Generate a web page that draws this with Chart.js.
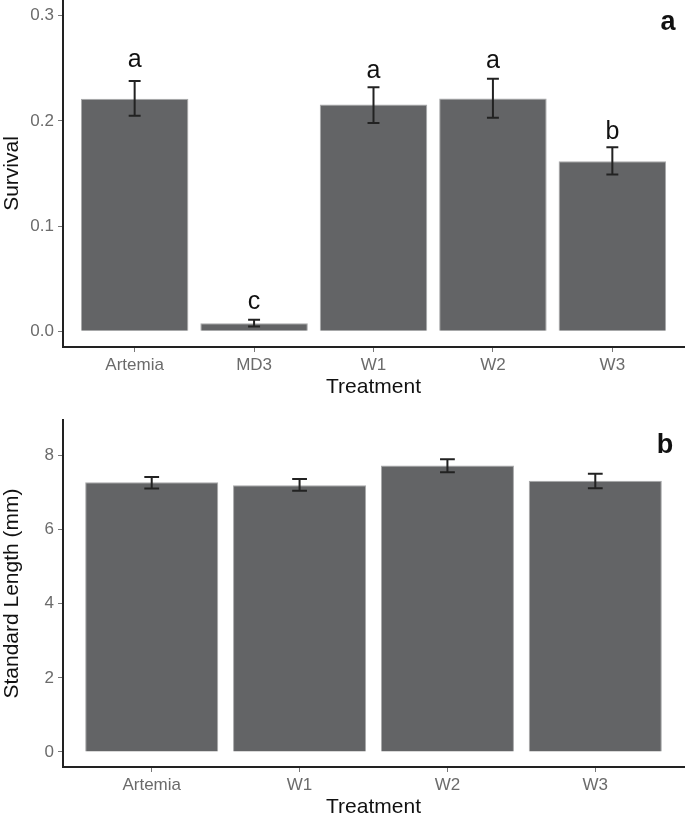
<!DOCTYPE html>
<html>
<head>
<meta charset="utf-8">
<script src="https://cdn.jsdelivr.net/npm/chart.js@4.4.1/dist/chart.umd.min.js"></script>
<style>
  html, body { margin: 0; padding: 0; background: #fff; }
  #wrap { position: relative; width: 685px; height: 823px; }
  canvas { position: absolute; left: 0; }
  #survivalChart { top: 0; }
  #lengthChart { top: 410px; }
</style>
</head>
<body>
<div id="wrap">
  <canvas id="survivalChart" width="685" height="400"></canvas>
  <canvas id="lengthChart" width="685" height="413"></canvas>
</div>
<script>
// panel a - survival
const survivalLabels = ["Artemia", "MD3", "W1", "W2", "W3"];
const survivalMean = [0.221, 0.0076, 0.2156, 0.2213, 0.1616];
const survivalLow = [0.205, 0.0045, 0.198, 0.203, 0.149];
const survivalHigh = [0.238, 0.011, 0.232, 0.240, 0.175];
const survivalLetters = ["a", "c", "a", "a", "b"];
const survivalLetterY = [0.251, 0.0207, 0.2404, 0.2505, 0.1832];
const survivalTicks = [0, 0.1, 0.2, 0.3];

// panel b - standard length
const lengthLabels = ["Artemia", "W1", "W2", "W3"];
const lengthMean = [7.28, 7.20, 7.73, 7.32];
const lengthLow = [7.11, 7.05, 7.55, 7.12];
const lengthHigh = [7.42, 7.37, 7.90, 7.51];
const lengthTicks = [0, 2, 4, 6, 8];

const FONT = "'Liberation Sans', Arial, sans-serif";

const errorBars = {
  id: "errorBars",
  afterDatasetsDraw(chart, args, opts) {
    const { ctx } = chart;
    const x = chart.scales.x;
    const y = chart.scales.y;
    ctx.save();
    ctx.strokeStyle = "#222";
    ctx.lineWidth = 2;
    opts.low.forEach((lo, i) => {
      const cx = x.getPixelForValue(i + 1);
      const half = x.getPixelForValue(i + 1.05) - cx;
      const yl = y.getPixelForValue(lo);
      const yh = y.getPixelForValue(opts.high[i]);
      ctx.beginPath();
      ctx.moveTo(cx, yl);
      ctx.lineTo(cx, yh);
      ctx.moveTo(cx - half, yl);
      ctx.lineTo(cx + half, yl);
      ctx.moveTo(cx - half, yh);
      ctx.lineTo(cx + half, yh);
      ctx.stroke();
    });

    ctx.fillStyle = "#111";
    ctx.textAlign = "center";
    ctx.textBaseline = "alphabetic";
    if (opts.letters) {
      ctx.font = "25px " + FONT;
      opts.letters.forEach((t, i) => {
        ctx.fillText(t, x.getPixelForValue(i + 1), y.getPixelForValue(opts.letterY[i]));
      });
    }

    ctx.font = "bold 27px " + FONT;
    ctx.fillText(opts.tag, opts.tagX, opts.tagY);
    ctx.restore();
  },
};

function makeChart(id, p) {
  const el = document.getElementById(id);
  if (!el) return null;
  return new Chart(el.getContext("2d"), {
    type: "bar",
    data: {
      datasets: [
        {
          data: p.mean.map((v, i) => ({ x: i + 1, y: v })),
          backgroundColor: "#636466",
          borderColor: "#a8a9aa",
          borderWidth: 1,
          barPercentage: 0.9,
          categoryPercentage: 1.0,
        },
      ],
    },
    options: {
      responsive: false,
      animation: false,
      layout: { padding: { left: 0, right: 1, top: p.top, bottom: 0 } },
      plugins: {
        legend: { display: false },
        tooltip: { enabled: false },
        errorBars: {
          low: p.low,
          high: p.high,
          letters: p.letters,
          letterY: p.letterY,
          tag: p.tag,
          tagX: p.tagX,
          tagY: p.tagY,
        },
      },
      scales: {
        x: {
          type: "linear",
          offset: false,
          min: 0.4,
          max: p.labels.length + 0.6,
          afterBuildTicks: (s) => {
            s.ticks = p.labels.map((_, i) => ({ value: i + 1 }));
          },
          afterFit: (s) => {
            s.height = p.xHeight;
            s.paddingLeft = 0;
            s.paddingRight = 0;
          },
          ticks: {
            autoSkip: false,
            maxRotation: 0,
            padding: 3,
            color: "#6b6b6b",
            font: { family: FONT, size: 17 },
            callback: (v) => p.labels[v - 1],
          },
          grid: {
            offset: false,
            drawOnChartArea: false,
            tickLength: 5,
            tickColor: "#777",
            tickWidth: 1,
          },
          border: { display: true, color: "#222", width: 2 },
          title: {
            display: true,
            text: "Treatment",
            color: "#111",
            font: { family: FONT, size: 21 },
            padding: { top: 0, bottom: p.xTitlePad },
          },
        },
        y: {
          type: "linear",
          min: p.yMin,
          max: p.yMax,
          afterBuildTicks: (s) => {
            s.ticks = p.yTicks.map((v) => ({ value: v }));
          },
          afterFit: (s) => {
            s.width = 63;
            s.paddingTop = 0;
            s.paddingBottom = 0;
          },
          ticks: {
            padding: 4,
            color: "#6b6b6b",
            font: { family: FONT, size: 17 },
            callback: (v) => v.toFixed(p.decimals),
          },
          grid: {
            drawOnChartArea: false,
            tickLength: 5,
            tickColor: "#777",
            tickWidth: 1,
          },
          border: { display: true, color: "#222", width: 2 },
          title: {
            display: true,
            text: p.yTitle,
            color: "#111",
            font: { family: FONT, size: 21 },
            padding: { top: 0, bottom: 0 },
          },
        },
      },
    },
    plugins: [errorBars],
  });
}

makeChart("survivalChart", {
  labels: survivalLabels,
  mean: survivalMean,
  low: survivalLow,
  high: survivalHigh,
  letters: survivalLetters,
  letterY: survivalLetterY,
  yTicks: survivalTicks,
  yMin: -0.015,
  yMax: 0.315,
  decimals: 1,
  yTitle: "Survival",
  tag: "a",
  tagX: 668,
  tagY: 30,
  top: 0,
  xHeight: 53,
  xTitlePad: 0,
});

makeChart("lengthChart", {
  labels: lengthLabels,
  mean: lengthMean,
  low: lengthLow,
  high: lengthHigh,
  letters: null,
  letterY: null,
  yTicks: lengthTicks,
  yMin: -0.405,
  yMax: 8.96,
  decimals: 0,
  yTitle: "Standard Length (mm)",
  tag: "b",
  tagX: 665,
  tagY: 43,
  top: 10,
  xHeight: 56,
  xTitlePad: 3,
});
</script>
</body>
</html>
